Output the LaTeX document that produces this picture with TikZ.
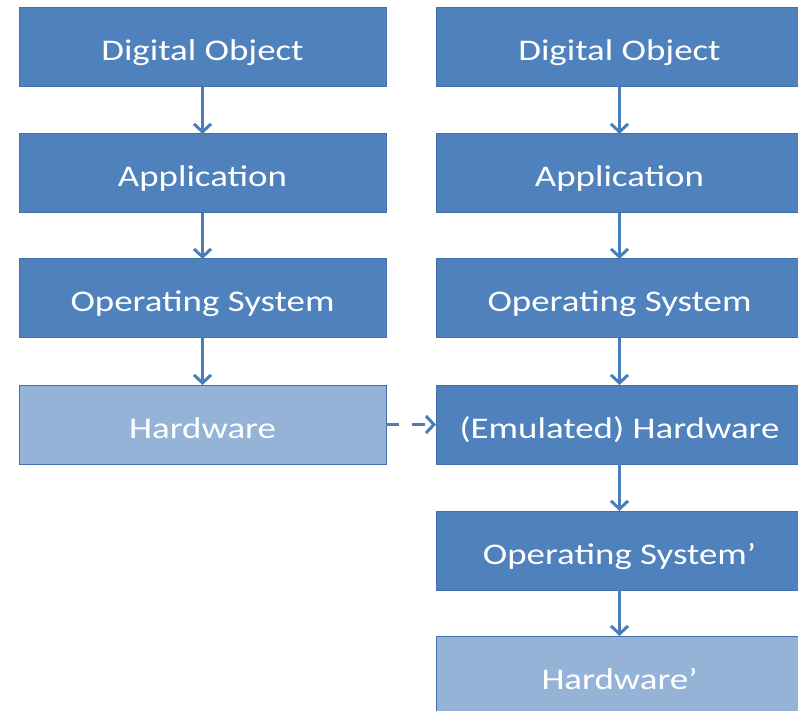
\documentclass[tikz,border=0pt]{standalone}
\usepackage{fontspec}
\usetikzlibrary{arrows.meta}
\newfontfamily\boxfont[FakeStretch=1.23]{Carlito}
\definecolor{boxblue}{RGB}{79,129,189}
\definecolor{boxlight}{RGB}{149,179,215}
\definecolor{boxedge}{RGB}{65,113,170}
\definecolor{arrowblue}{RGB}{74,126,187}
\tikzset{
  boxdark/.style={draw=boxedge, line width=1pt, fill=boxblue},
  boxpale/.style={draw=boxedge, line width=1pt, fill=boxlight},
  boxtext/.style={text=white, anchor=base, inner sep=0pt, font=\boxfont\fontsize{30}{34}\selectfont},
  flow/.style={draw=arrowblue, line width=3pt, -{Straight Barb[length=8pt, width=17pt, line width=3pt]}},
  dashflow/.style={flow, dash pattern=on 13pt off 13pt},
}
\begin{document}
\begin{tikzpicture}[x=1pt, y=-1pt]
\useasboundingbox (0,0) rectangle (798,711);
\clip (0,0) rectangle (798,711);
% left column
\foreach \n/\t/\s/\lab in {L1/8/boxdark/Digital Object, L2/134/boxdark/Application, L3/259/boxdark/Operating System, L4/385/boxpale/Hardware}{
  \path[\s] (19,\t) rectangle (386,\t+79);
  \node[boxtext] (\n) at (202.5,\t+53) {\lab};
  \coordinate (\n t) at (202.5,\t);
  \coordinate (\n b) at (202.5,\t+79);
  \coordinate (\n r) at (386,\t+39.5);
}
% right column
\foreach \n/\t/\s/\lab in {R1/8/boxdark/Digital Object, R2/134/boxdark/Application, R3/259/boxdark/Operating System, R4/385/boxdark/(Emulated) Hardware, R5/511/boxdark/Operating System’, R6/636/boxpale/Hardware’}{
  \path[\s] (436,\t) rectangle (803,\t+79);
  \node[boxtext] (\n) at (619.5,\t+53) {\lab};
  \coordinate (\n t) at (619.5,\t);
  \coordinate (\n b) at (619.5,\t+79);
  \coordinate (\n l) at (436,\t+39.5);
}
\draw[flow] (L1b) -- (L2t);
\draw[flow] (L2b) -- (L3t);
\draw[flow] (L3b) -- (L4t);
\draw[flow] (R1b) -- (R2t);
\draw[flow] (R2b) -- (R3t);
\draw[flow] (R3b) -- (R4t);
\draw[flow] (R4b) -- (R5t);
\draw[flow] (R5b) -- (R6t);
\draw[dashflow] (L4r) -- (R4l);
\end{tikzpicture}
\end{document}
